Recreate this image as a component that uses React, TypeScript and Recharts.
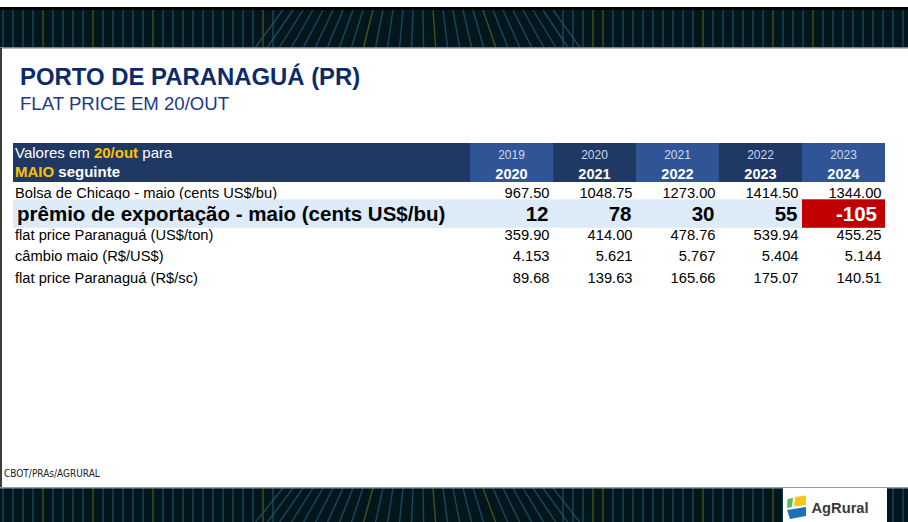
import React from "react";
import { ScatterChart, Scatter, XAxis, YAxis } from "recharts";

// safra (colunas): ano de referência / ano de entrega
const SEASON_START = ["2019", "2020", "2021", "2022", "2023"];
const SEASON_END = ["2020", "2021", "2022", "2023", "2024"];

const ROW_LABELS = [
  "Bolsa de Chicago - maio (cents US$/bu)",
  "prêmio de exportação - maio (cents US$/bu)",
  "flat price Paranaguá (US$/ton)",
  "câmbio maio (R$/US$)",
  "flat price Paranaguá (R$/sc)",
];

const CHICAGO = [967.5, 1048.75, 1273.0, 1414.5, 1344.0];
const PREMIO = [12, 78, 30, 55, -105];
const FLAT_USD = [359.9, 414.0, 478.76, 539.94, 455.25];
const CAMBIO = [4.153, 5.621, 5.767, 5.404, 5.144];
const FLAT_BRL = [89.68, 139.63, 165.66, 175.07, 140.51];
const DECIMALS = [2, 0, 2, 3, 2];
const HIGHLIGHT_ROW = 1;

const ROW_VALUES = [CHICAGO, PREMIO, FLAT_USD, CAMBIO, FLAT_BRL];

const cells = ROW_LABELS.flatMap((row, r) =>
  SEASON_END.map((season, c) => ({
    season,
    row,
    value: ROW_VALUES[r][c],
    decimals: DECIMALS[r],
    highlight: r === HIGHLIGHT_ROW,
  }))
);

const FONT = "'Liberation Sans', Arial, sans-serif";
const W = 908;
const H = 522;
const CHART_H = 290;
const MARGIN = { top: 143, right: 23, bottom: 2, left: 13 };
const Y_AXIS_W = 457;
const HEADER_H = 39;
const COL_W = (W - MARGIN.left - MARGIN.right - Y_AXIS_W) / SEASON_END.length;
const NAVY = "#1f3864";
const BLUE = "#2f5597";
const LIGHT = "#dcebf7";
const BAND = "#03161c";

function SeasonHeader(props: any) {
  const { x, payload } = props;
  const i = SEASON_END.indexOf(payload.value);
  return (
    <g>
      <rect
        x={x - COL_W / 2}
        y={MARGIN.top}
        width={COL_W}
        height={HEADER_H}
        fill={i % 2 === 0 ? BLUE : NAVY}
      />
      <text x={x} y={MARGIN.top + 16} textAnchor="middle" fill="#cfd8ea" fontSize={12} fontFamily={FONT}>
        {SEASON_START[i]}
      </text>
      <text
        x={x}
        y={MARGIN.top + 36}
        textAnchor="middle"
        fill="#ffffff"
        fontSize={14.5}
        fontWeight="bold"
        fontFamily={FONT}
      >
        {payload.value}
      </text>
    </g>
  );
}

function RowLabel(props: any) {
  const { y, payload } = props;
  const highlight = payload.value === ROW_LABELS[HIGHLIGHT_ROW];
  return (
    <g>
      {highlight && (
        <rect x={MARGIN.left} y={y - 14.5} width={Y_AXIS_W} height={28.5} fill={LIGHT} />
      )}
      <text
        x={MARGIN.left + (highlight ? 4 : 2)}
        y={y}
        dy="0.35em"
        textAnchor="start"
        fill="#000000"
        fontSize={highlight ? 20.5 : 14.7}
        fontWeight={highlight ? "bold" : "normal"}
        fontFamily={FONT}
      >
        {payload.value}
      </text>
    </g>
  );
}

function ValueCell(props: any) {
  const { cx, cy, payload } = props;
  const right = cx + COL_W / 2;
  const text = payload.value.toFixed(payload.decimals);
  if (payload.highlight) {
    const neg = payload.value < 0;
    return (
      <g>
        <rect
          x={cx - COL_W / 2}
          y={cy - 14.5}
          width={COL_W}
          height={28.5}
          fill={neg ? "#c00000" : LIGHT}
        />
        <text
          x={right - (neg ? 8 : 4.5)}
          y={cy}
          dy="0.35em"
          textAnchor="end"
          fill={neg ? "#ffffff" : "#000000"}
          fontSize={20.5}
          fontWeight="bold"
          fontFamily={FONT}
        >
          {text}
        </text>
      </g>
    );
  }
  return (
    <text
      x={right - 3.5}
      y={cy}
      dy="0.35em"
      textAnchor="end"
      fill="#000000"
      fontSize={14.7}
      fontFamily={FONT}
    >
      {text}
    </text>
  );
}

function StripeBand({ y, h }: { y: number; h: number }) {
  const lines = [];
  for (let k = 0; k < 92; k++) {
    const x0 = k * 10 + 3;
    const d = x0 - 420;
    const bend = Math.abs(d) < 140 ? (d / 140) * 14 : 0;
    const yellow = k % 11 === 4 || k % 17 === 9;
    lines.push(
      <path
        key={k}
        d={`M${x0},${y} Q${x0 + bend},${y + h / 2} ${x0 + bend * 2},${y + h}`}
        stroke={yellow ? "#4f5e1c" : "#1c5168"}
        strokeWidth={1.4}
        fill="none"
        opacity={0.85}
      />
    );
  }
  return (
    <g>
      <rect x={0} y={y} width={W} height={h} fill={BAND} />
      {lines}
    </g>
  );
}

function Frame() {
  return (
    <svg width={W} height={H} style={{ position: "absolute", left: 0, top: 0 }}>
      <rect x={0} y={0} width={W} height={H} fill="#ffffff" />
      <rect x={0} y={7} width={W} height={3} fill="#000000" />
      <StripeBand y={10} h={37} />
      <rect x={0} y={47} width={W} height={1.5} fill="#6f819c" />
      <rect x={0} y={48} width={2} height={440} fill="#3c3c3c" />
      <StripeBand y={488} h={34} />
      <rect x={0} y={487} width={W} height={1.5} fill="#8d9bb0" />
      <rect x={783} y={488} width={104} height={34} fill="#ffffff" />

      <text x={20} y={85} fill="#0d2b6b" fontSize={23.9} fontWeight="bold" fontFamily={FONT}>
        PORTO DE PARANAGUÁ (PR)
      </text>
      <text x={20} y={110} fill="#1c3a8c" fontSize={18.6} fontFamily={FONT}>
        FLAT PRICE EM 20/OUT
      </text>

      <rect x={MARGIN.left} y={MARGIN.top} width={Y_AXIS_W} height={HEADER_H} fill={NAVY} />
      <text x={15} y={158} fill="#ffffff" fontSize={15} fontFamily={FONT}>
        Valores em{" "}
        <tspan fill="#ffc000" fontWeight="bold">
          20/out
        </tspan>{" "}
        para
      </text>
      <text x={15} y={177} fill="#ffffff" fontSize={15} fontWeight="bold" fontFamily={FONT}>
        <tspan fill="#ffc000">MAIO</tspan> seguinte
      </text>

      <text
        x={4}
        y={477}
        fill="#222222"
        fontSize={10}
        fontFamily="'Liberation Sans Narrow', 'DejaVu Sans Condensed', sans-serif"
      >
        CBOT/PRAs/AGRURAL
      </text>

      <polygon points="787.5,499 793,498 792,507 787,508" fill="#5cb85c" />
      <polygon points="795,497 806,495.5 806,505 794,506.5" fill="#f5c518" />
      <polygon points="787,510 806,507 806,516 790,519" fill="#1f6fb8" />
      <text x={811.5} y={513} fill="#3a3a3a" fontSize={14.7} fontWeight="bold" fontFamily={FONT}>
        AgRural
      </text>
    </svg>
  );
}

export default function App() {
  return (
    <div
      style={{
        position: "absolute",
        left: 0,
        top: 0,
        width: W,
        height: H,
        overflow: "hidden",
        fontFamily: FONT,
      }}
    >
      <Frame />
      <div style={{ position: "absolute", left: 0, top: 0 }}>
        <ScatterChart width={W} height={CHART_H} margin={MARGIN}>
          <XAxis
            dataKey="season"
            type="category"
            orientation="top"
            allowDuplicatedCategory={false}
            height={HEADER_H}
            axisLine={false}
            tickLine={false}
            interval={0}
            tick={(p: any) => <SeasonHeader {...p} />}
          />
          <YAxis
            dataKey="row"
            type="category"
            reversed
            allowDuplicatedCategory={false}
            width={Y_AXIS_W}
            axisLine={false}
            tickLine={false}
            interval={0}
            tick={(p: any) => <RowLabel {...p} />}
          />
          <Scatter data={cells} isAnimationActive={false} shape={(p: any) => <ValueCell {...p} />} />
        </ScatterChart>
      </div>
    </div>
  );
}
